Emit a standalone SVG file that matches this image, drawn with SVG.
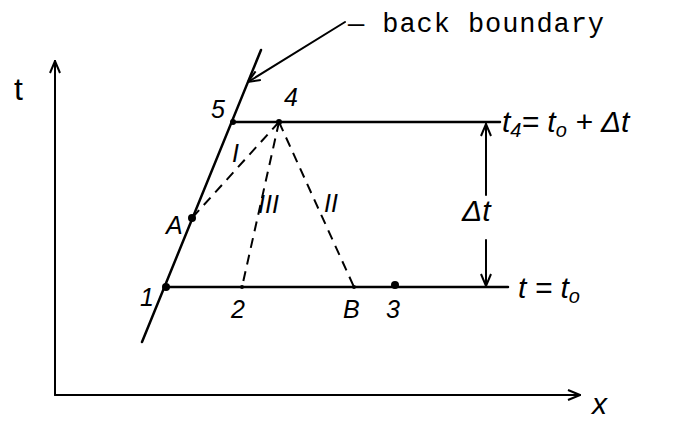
<svg xmlns="http://www.w3.org/2000/svg" width="684" height="424" viewBox="0 0 684 424">
<defs>
<style>
.ln{stroke:#000;stroke-width:2.5;fill:none;stroke-linecap:round}
.thin{stroke:#000;stroke-width:2;fill:none;stroke-linecap:round}
.dash{stroke:#000;stroke-width:2;fill:none;stroke-dasharray:10,7}
.lbl{font-family:"Liberation Sans",Arial,sans-serif;font-style:italic;font-size:25px;fill:#000}
.big{font-family:"Liberation Sans",Arial,sans-serif;font-style:italic;font-size:30px;fill:#000}
.up{font-family:"Liberation Sans",Arial,sans-serif;font-size:32px;fill:#000}
.mono{font-family:"Liberation Mono","Courier New",monospace;font-size:27px;fill:#000}
.dot{fill:#000}
</style>
<marker id="ah" viewBox="0 0 14 12" refX="13" refY="6" markerWidth="14" markerHeight="12" markerUnits="userSpaceOnUse" orient="auto">
<path d="M1,1 L13,6 L1,11" fill="none" stroke="#000" stroke-width="2"/>
</marker>
</defs>
<rect width="684" height="424" fill="#fff"/>
<g id="axes">
<line class="thin" x1="55" y1="395" x2="55" y2="61" marker-end="url(#ah)"/>
<line class="thin" x1="55" y1="395" x2="580" y2="395" marker-end="url(#ah)"/>
<text class="up" x="14" y="100">t</text>
<text class="big" x="592" y="414">x</text>
</g>
<g id="connectors">
<line class="ln" x1="142" y1="342" x2="261" y2="50"/>
<line class="ln" x1="233" y1="122" x2="500" y2="122"/>
<line class="ln" x1="166" y1="287" x2="508" y2="287"/>
<line class="dash" x1="279" y1="122" x2="192" y2="218"/>
<line class="dash" x1="279" y1="122" x2="242" y2="287"/>
<line class="dash" x1="279" y1="122" x2="354" y2="287"/>
<line class="thin" x1="345" y1="22" x2="248" y2="82" marker-end="url(#ah)"/>
<line class="thin" x1="486" y1="195" x2="486" y2="124" marker-end="url(#ah)"/>
<line class="thin" x1="486" y1="240" x2="486" y2="286" marker-end="url(#ah)"/>
</g>
<g id="point-1"><circle class="dot" cx="166" cy="287" r="4"/><text class="lbl" x="140" y="306">1</text></g>
<g id="point-5"><circle class="dot" cx="233" cy="122" r="3"/><text class="lbl" x="211" y="118">5</text></g>
<g id="point-4"><circle class="dot" cx="279" cy="122" r="3"/><text class="lbl" x="284" y="106">4</text></g>
<g id="point-A"><circle class="dot" cx="192" cy="218" r="4"/><text class="lbl" x="166" y="234">A</text></g>
<g id="point-2"><circle class="dot" cx="242" cy="287" r="2"/><text class="lbl" x="231" y="318">2</text></g>
<g id="point-B"><circle class="dot" cx="354" cy="287" r="2"/><text class="lbl" x="343" y="318">B</text></g>
<g id="point-3"><circle class="dot" cx="395" cy="285" r="4"/><text class="lbl" x="386" y="318">3</text></g>
<g id="line-labels">
<text class="lbl" x="232" y="162" font-size="20">I</text>
<text class="lbl" x="258" y="213" font-size="20">III</text>
<text class="lbl" x="324" y="212" font-size="20">II</text>
</g>
<g id="label-back"><text class="mono" x="348" y="32" textLength="256">— back boundary</text></g>
<g id="label-t4"><text class="big" x="502" y="132" font-size="32">t<tspan font-size="20" dy="5">4</tspan><tspan dy="-5">= t</tspan><tspan font-size="20" dy="5">o</tspan><tspan dy="-5"> + Δt</tspan></text></g>
<g id="label-dt"><text class="big" x="462" y="221" font-size="32">Δt</text></g>
<g id="label-t0"><text class="big" x="518" y="298" font-size="32">t = t<tspan font-size="20" dy="5">o</tspan></text></g>
</svg>
